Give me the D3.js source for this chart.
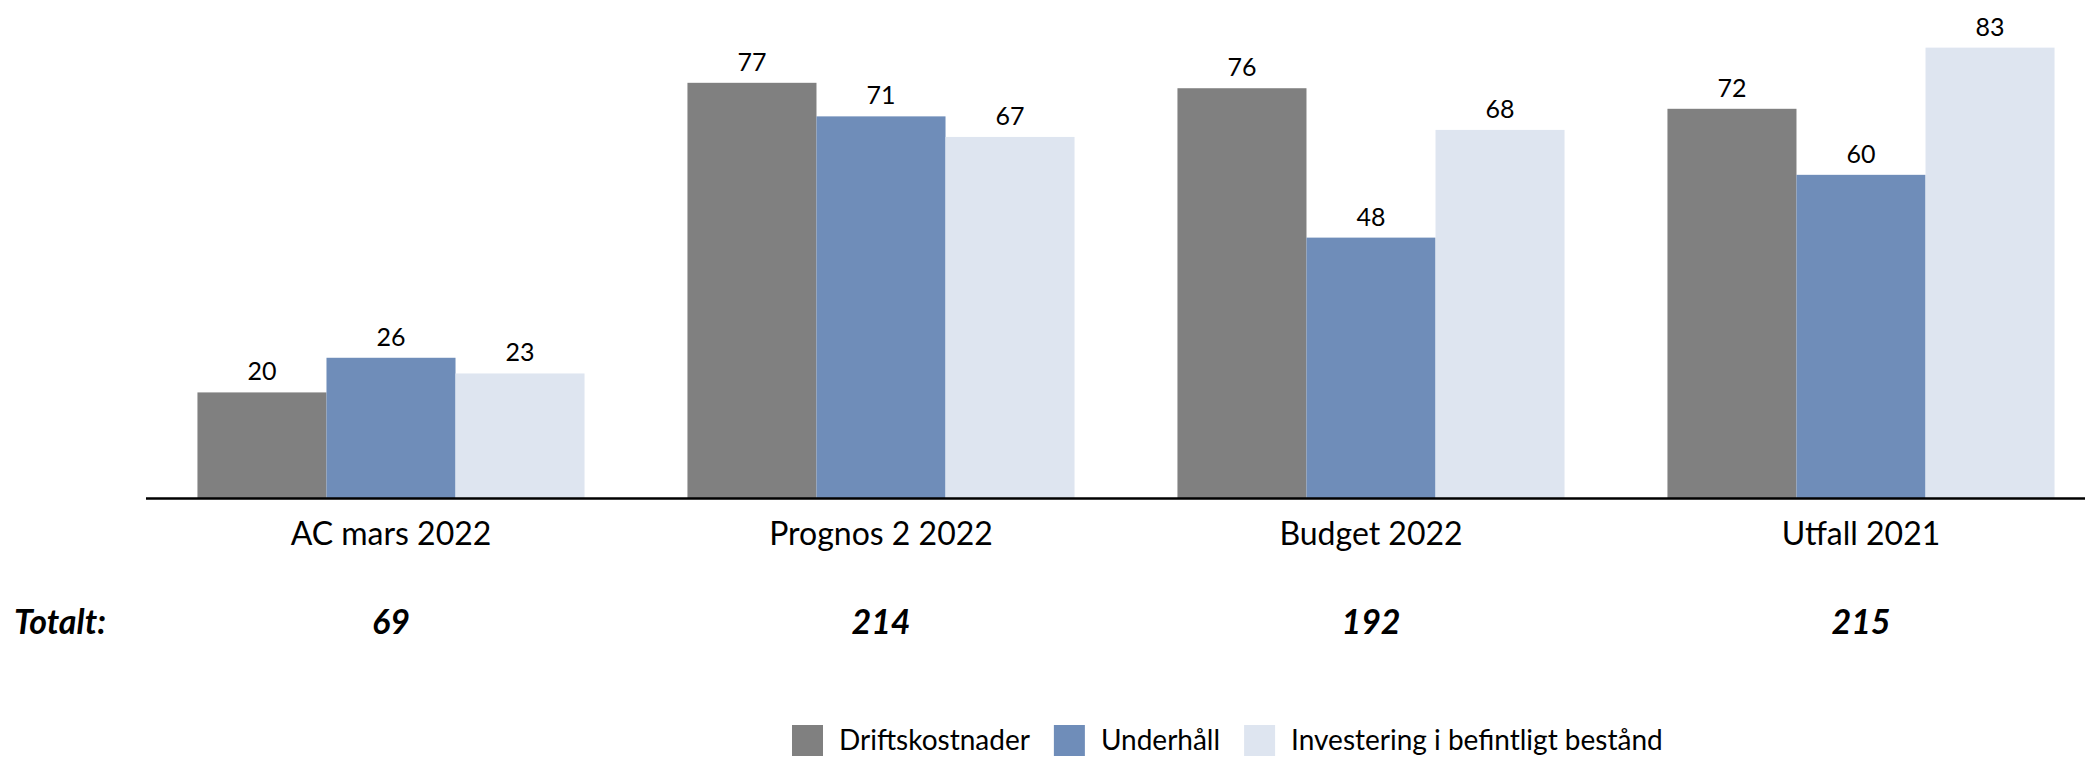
<!DOCTYPE html>
<html>
<head>
<meta charset="utf-8">
<script src="https://d3js.org/d3.v7.min.js"></script>
<style>
  body { margin: 0; background: #fff; }
  svg { display: block; font-family: Lato, "Open Sans", sans-serif; }
</style>
</head>
<body>
<svg id="chart" width="2085" height="757"></svg>
<script>
// categories and series
const categories = ['AC mars 2022', 'Prognos 2 2022', 'Budget 2022', 'Utfall 2021'];
const seriesNames = ['Driftskostnader', 'Underhåll', 'Investering i befintligt bestånd'];
const drift = [19.6, 76.8, 75.8, 72.0];
const underhall = [26.0, 70.6, 48.2, 59.8];
const investering = [23.1, 66.8, 68.1, 83.3];
const totalLabel = 'Totalt:';

const colors = ['#808080', '#6f8db9', '#dee5f0'];

const svg = d3.select('svg#chart');
const fmt = d3.format('.0f');

const data = categories.map((c, i) => ({
    cat: c,
    values: [drift[i], underhall[i], investering[i]],
}));

// scales
const x0 = d3.scaleBand()
    .domain(categories)
    .range([146, 2106])
    .paddingInner(0.21)
    .paddingOuter(0.105);

const x1 = d3.scaleBand()
    .domain(d3.range(seriesNames.length))
    .range([0, x0.bandwidth()]);

const y = d3.scaleLinear()
    .domain([0, 92.1])
    .range([498.5, 0]);

// bars
const groups = svg.selectAll('g.group').data(data)
    .enter().append('g').classed('group', true)
    .attr('transform', d => 'translate(' + x0(d.cat) + ',0)');

groups.selectAll('rect').data(d => d.values)
    .enter().append('rect')
    .attr('x', (d, i) => x1(i))
    .attr('width', x1.bandwidth())
    .attr('y', d => y(d))
    .attr('height', d => y(0) - y(d))
    .attr('fill', (d, i) => colors[i]);

groups.selectAll('text.value').data(d => d.values)
    .enter().append('text').classed('value', true)
    .attr('x', (d, i) => x1(i) + x1.bandwidth() / 2)
    .attr('y', d => y(d) - 12)
    .attr('text-anchor', 'middle')
    .attr('font-size', 25)
    .attr('fill', '#000')
    .text(d => fmt(d));

// x axis
const axis = svg.append('g')
    .attr('transform', 'translate(0,' + y(0) + ')')
    .call(d3.axisBottom(x0).tickSize(0).tickPadding(24));
axis.select('.domain').attr('stroke', '#000').attr('stroke-width', 2.5)
    .attr('d', 'M146,0H2085');
axis.selectAll('.tick text')
    .attr('font-family', 'Lato, "Open Sans", sans-serif')
    .attr('font-size', 32)
    .attr('fill', '#000');

// totals row
svg.append('text')
    .attr('x', 14)
    .attr('y', 634)
    .attr('font-size', 34)
    .attr('font-weight', 'bold')
    .attr('font-style', 'italic')
    .text(totalLabel);

svg.selectAll('text.total').data(data)
    .enter().append('text').classed('total', true)
    .attr('x', d => x0(d.cat) + x0.bandwidth() / 2)
    .attr('y', 634)
    .attr('text-anchor', 'middle')
    .attr('font-size', 34)
    .attr('font-weight', 'bold')
    .attr('font-style', 'italic')
    .text(d => fmt(d3.sum(d.values)));

// legend
const legend = svg.append('g').attr('transform', 'translate(792,725)');
let lx = 0;
seriesNames.forEach((name, i) => {
    const item = legend.append('g').attr('transform', 'translate(' + lx + ',0)');
    item.append('rect')
        .attr('width', 31).attr('height', 31)
        .attr('fill', colors[i]);
    const t = item.append('text')
        .attr('x', 47)
        .attr('y', 25)
        .attr('font-size', 28)
        .text(name);
    lx += 47 + t.node().getComputedTextLength() + 24;
});
</script>
</body>
</html>
